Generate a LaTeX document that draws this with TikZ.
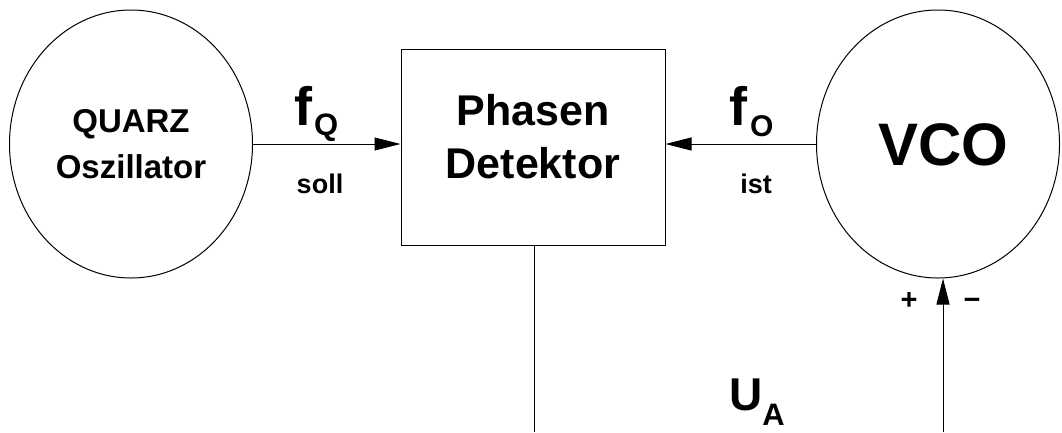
\documentclass[tikz,border=0pt]{standalone}
\usepackage{fontspec}
\setmainfont{Liberation Sans}
\usetikzlibrary{shapes.geometric,arrows.meta}
\begin{document}
\begin{tikzpicture}[x=1pt,y=-1pt,
  every node/.style={font=\bfseries},
  osc/.style={draw,ellipse,line width=1pt,inner sep=0pt,minimum width=243pt,minimum height=268pt,align=center},
  block/.style={draw,rectangle,line width=1pt,inner sep=0pt,minimum width=264pt,minimum height=196pt},
  wire/.style={line width=1pt},
  sig/.style={line width=1pt,-{Triangle[length=26pt,width=13pt]}},
  pm/.style={anchor=base,inner sep=0pt,font=\bfseries\fontsize{29}{29}\selectfont}]
\useasboundingbox (0,0) rectangle (1062,432);
\node[osc,font=\bfseries\fontsize{33}{46}\selectfont] (quarz) at (131,144) {QUARZ\\Oszillator};
\node[block] (pd) at (533,147) {};
\node[align=center,font=\bfseries\fontsize{43}{53}\selectfont] (pdtext) at (533,136.5) {Phasen\\Detektor};
\node[osc] (vco) at (938,144) {};
\node[font=\bfseries\fontsize{60}{60}\selectfont] (vcotext) at (943,145) {VCO};
\coordinate (pdend) at (534,432);
\coordinate (uaend) at (943,432);
\draw[sig] (quarz.east) -- (quarz.east -| pd.west);
\draw[sig] (vco.west) -- (vco.west -| pd.east);
\draw[wire] (pdend |- pd.south) -- (pdend);
\draw[sig] (uaend) -- (uaend |- vco.south);
\node[anchor=base west,inner sep=0pt] (fq) at (294,125) {\fontsize{54}{54}\selectfont f\kern2pt\raisebox{-10pt}{\fontsize{31}{31}\selectfont Q}};
\node[anchor=base,inner sep=0pt,font=\bfseries\fontsize{27}{27}\selectfont] (soll) at (320,193) {soll};
\node[anchor=base west,inner sep=0pt] (fo) at (729,125) {\fontsize{54}{54}\selectfont f\kern3pt\raisebox{-11pt}{\fontsize{30}{30}\selectfont O}};
\node[anchor=base,inner sep=0pt,font=\bfseries\fontsize{27}{27}\selectfont] (ist) at (756,193) {ist};
\node[anchor=base west,inner sep=0pt] (ua) at (729,410) {\fontsize{46}{46}\selectfont U\raisebox{-15pt}{\fontsize{31}{31}\selectfont A}};
\node[pm] (plus) at (909,309) {+};
\node[pm] (minus) at (972,309) {−};
\end{tikzpicture}
\end{document}
